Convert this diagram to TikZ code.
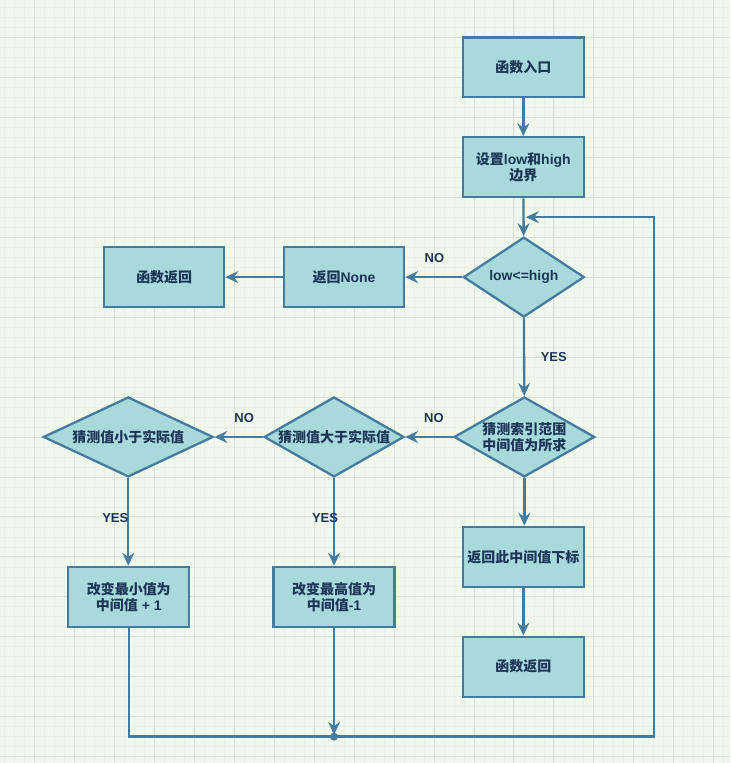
\documentclass[tikz,border=0pt]{standalone}
\usepackage{fontspec}
\setmainfont{Liberation Sans}
\newfontfamily\cjk{Noto Sans CJK SC}
\usetikzlibrary{shapes.geometric,arrows.meta}
\definecolor{bgc}{HTML}{F0F8EC}
\definecolor{minorc}{HTML}{E9F1E6}
\definecolor{majorc}{HTML}{D9E0D7}
\definecolor{fillc}{HTML}{A8DADC}
\definecolor{linec}{HTML}{457B9D}
\definecolor{txtc}{HTML}{1D3557}
\newcommand\zh[1]{{\cjk #1}}
\begin{document}
\begin{tikzpicture}[x=1pt,y=-1pt,
 txt/.style={text=txtc, align=center, inner sep=0pt, font=\fontsize{14}{16}\selectfont\bfseries},
 base/.style={draw=linec, fill=fillc, line width=2.3pt, inner sep=0pt, txt},
 box/.style={base, rectangle, minimum width=121pt, minimum height=60pt},
 dia/.style={base, diamond, minimum width=#1, minimum height=80pt},
 lbl/.style={text=txtc, font=\fontsize{13}{15}\selectfont\bfseries, inner sep=0pt},
 arr/.style={draw=linec, line width=2.3pt, -{Stealth[length=13pt,width=12pt,inset=4.5pt]}}
]
\fill[bgc] (0,0) rectangle (730,763);
\foreach \x in {4,14,...,724} \draw[minorc, line width=0.6pt] (\x,0) -- (\x,763);
\foreach \y in {7,17,...,757} \draw[minorc, line width=0.6pt] (0,\y) -- (730,\y);
\foreach \x in {34,74,...,714} \draw[majorc, line width=0.8pt] (\x,0) -- (\x,763);
\foreach \y in {37,77,...,757} \draw[majorc, line width=0.8pt] (0,\y) -- (730,\y);

\node[box] (start) at (523.5,67) {\zh{函数入口}};
\node[box] (init) at (523.5,167) {\zh{设置}low\zh{和}high\\\zh{边界}};
\node[dia=121pt, label={[txt]center:low<=high}] (cond) at (524,277) {};
\node[box, minimum width=120pt] (none) at (344,277) {\zh{返回}None};
\node[box, minimum width=120pt] (ret1) at (164,277) {\zh{函数返回}};
\node[dia=141pt, label={[txt]center:\zh{猜测索引范围}\\\zh{中间值为所求}}] (guess) at (524.5,437) {};
\node[dia=140pt, label={[txt]center:\zh{猜测值大于实际值}}] (gt) at (334,437) {};
\node[dia=170pt, label={[txt]center:\zh{猜测值小于实际值}}] (lt) at (128,437) {};
\node[box] (incl) at (128.5,597) {\zh{改变最小值为}\\\zh{中间值} + 1};
\node[box] (dech) at (334,597) {\zh{改变最高值为}\\\zh{中间值}-1};
\node[box] (found) at (523.5,557) {\zh{返回此中间值下标}};
\node[box] (ret2) at (523.5,667) {\zh{函数返回}};

\draw[arr] (start) -- (init);
\draw[arr] (init) -- (cond);
\draw[arr] (cond) -- (none);
\draw[arr] (none) -- (ret1);
\draw[arr] (cond) -- (guess);
\draw[arr] (guess) -- (gt);
\draw[arr] (gt) -- (lt);
\draw[arr] (lt.south) -- (lt.south |- incl.north);
\draw[arr] (gt.south) -- (gt.south |- dech.north);
\draw[arr] (guess.south) -- (guess.south |- found.north);
\draw[arr] (found) -- (ret2);

\coordinate (join) at (334,737);
\coordinate (rb) at (654,737);
\coordinate (rt) at (654,217);
\coordinate (entry) at (526,217);
\draw[arr] (incl.south) |- (rb) -- (rt) -- (entry);
\draw[arr, shorten >=2pt] (dech.south) -- (join);
\fill[linec] (join) circle (4pt);

\node[lbl] (no1) at (434.5,258) {NO};
\node[lbl] (yes1) at (554,357) {YES};
\node[lbl] (no2) at (434,418) {NO};
\node[lbl] (no3) at (244,418) {NO};
\node[lbl] (yes2) at (115,518) {YES};
\node[lbl] (yes3) at (325,518) {YES};
\end{tikzpicture}
\end{document}
